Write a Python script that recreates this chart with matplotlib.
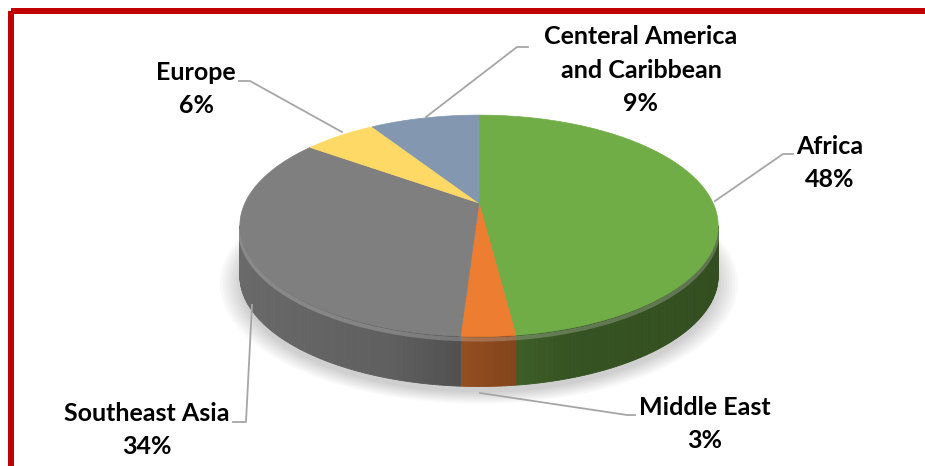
import numpy as np
import matplotlib
matplotlib.use("Agg")
import matplotlib.pyplot as plt
from matplotlib.patches import Polygon, Rectangle
from matplotlib.colors import to_rgb

# data
regions = ["Africa", "Middle East", "Southeast Asia", "Europe", "Centeral America\nand Caribbean"]
shares = [48, 3, 34, 6, 9]
colors = ["#70AD47", "#ED7D31", "#7F7F7F", "#FFD966", "#8497B0"]

# label placement (pixels) and leader line paths
label_xy = [(830, 163), (705, 424), (147, 430), (196, 89), (641, 70)]
leaders = [
    [(715, 201), (783, 154), (793, 154)],
    [(480, 393), (627, 415), (635, 415)],
    [(252, 305), (246, 422), (233, 422)],
    [(342, 132), (250, 81), (239, 81)],
    [(426, 117), (517, 47), (528, 47)],
]

plt.rcParams['font.family'] = ['Lato', 'DejaVu Sans']

W, H = 925, 466
fig = plt.figure(figsize=(W / 100, H / 100), dpi=100)
ax = fig.add_axes([0, 0, 1, 1])
ax.set_xlim(0, W)
ax.set_ylim(H, 0)
ax.axis('off')

# pie geometry in pixels, with a little perspective
cx, cy, rx, ry, p, depth = 479, 203, 234, 106, 0.206, 50


def proj(theta, drop=0.0, grow=1.0):
    t = np.radians(theta)
    s = 1 / (1 + p * np.sin(t))
    return cx + rx * grow * np.cos(t) * s, cy - ry * grow * np.sin(t) * s + drop


def shade(u):
    return np.interp(u, [-1, -0.3, 0, 0.3, 1], [0.84, 0.75, 0.6, 0.48, 0.45])


# soft shadow
full = np.linspace(0, 360, 200)
for k in range(8):
    xs, ys = proj(full, depth + 6, 1.0 + 0.012 * k)
    ax.add_patch(Polygon(np.column_stack([xs, ys]), closed=True,
                         facecolor='black', edgecolor='none', alpha=0.025, zorder=1))

frac = np.array(shares) / np.sum(shares)
ends = np.cumsum(frac)
starts = ends - frac
a0 = 90 - 360 * starts
a1 = 90 - 360 * ends

lim = np.degrees(np.arcsin(p))
front_lo, front_hi = -180 + lim, -lim

# sides
for i in range(len(shares)):
    lo, hi = max(a1[i], front_lo), min(a0[i], front_hi)
    if lo >= hi:
        continue
    th = np.linspace(lo, hi, max(3, int((hi - lo) * 1.5)))
    base = np.array(to_rgb(colors[i]))
    for j in range(len(th) - 1):
        xa, ya = proj(np.array([th[j], th[j + 1]]))
        xb, yb = proj(np.array([th[j + 1], th[j]]), depth)
        u = np.cos(np.radians((th[j] + th[j + 1]) / 2))
        c = base * shade(u)
        ax.add_patch(Polygon(np.column_stack([np.r_[xa, xb], np.r_[ya, yb]]),
                             closed=True, facecolor=c, edgecolor=c, lw=0.6, zorder=2))

# bevel highlight on the rim
th = np.linspace(front_lo, front_hi, 200)
xs, ys = proj(th, 3)
ax.plot(xs, ys, color='white', alpha=0.22, lw=3, zorder=3, solid_capstyle='butt')

# top faces
for i in range(len(shares)):
    th = np.linspace(a0[i], a1[i], max(3, int(abs(a0[i] - a1[i]) * 2)))
    xs, ys = proj(th)
    ax.add_patch(Polygon(np.column_stack([np.r_[cx, xs], np.r_[cy, ys]]), closed=True,
                         facecolor=colors[i], edgecolor=colors[i], lw=0.5, zorder=4))

# leader lines and labels
for i, name in enumerate(regions):
    pts = np.array(leaders[i])
    ax.plot(pts[:, 0], pts[:, 1], color='#A6A6A6', lw=1.3, zorder=5)
    ax.text(label_xy[i][0], label_xy[i][1], f"{name}\n{shares[i]}%", ha='center', va='center',
            fontsize=18, fontweight='bold', color='black', linespacing=1.55, zorder=6)

# red frame
ax.add_patch(Rectangle((11, 11), 1000, 1000, facecolor='none', edgecolor='#C00000',
                       lw=4.3, joinstyle='round', zorder=7))

fig.savefig("out.png", dpi=100)
